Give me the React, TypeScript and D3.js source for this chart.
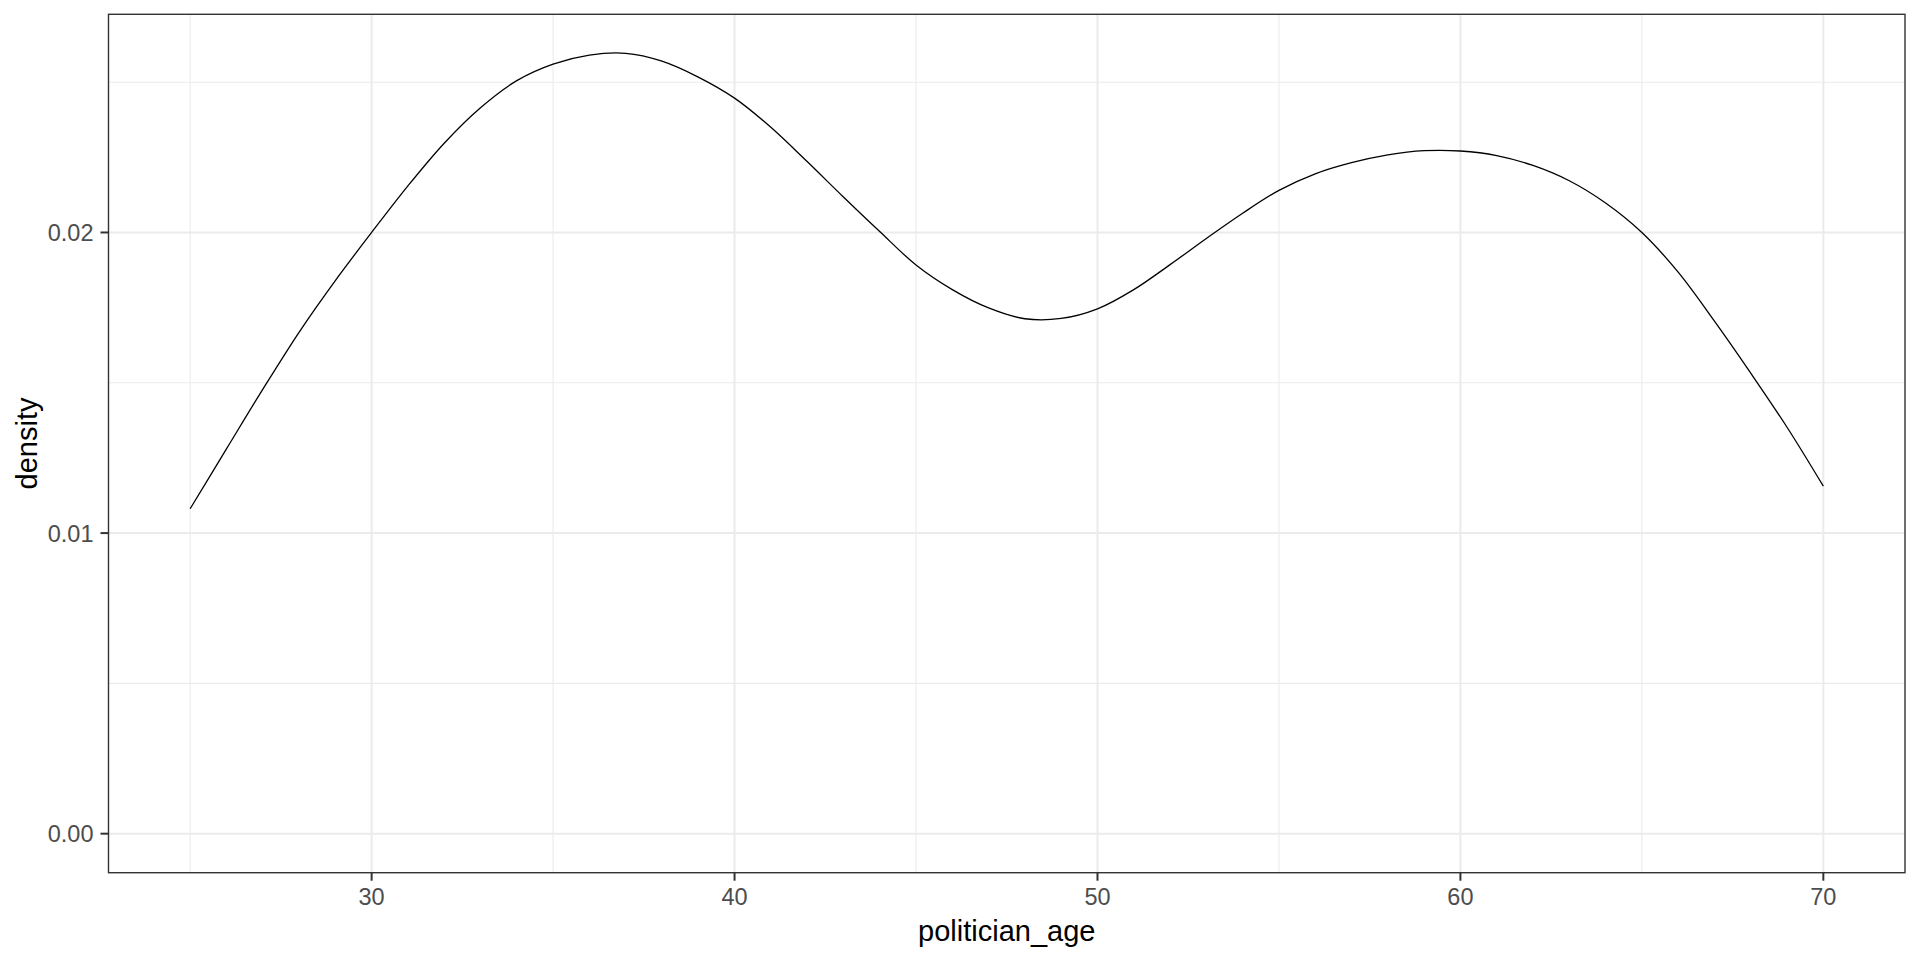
import React from "react";
import * as d3 from "d3";

const ages = [25,26,27,28,29,30,31,32,33,34,35,36,37,38,39,40,41,42,43,44,45,46,47,48,49,50,51,52,53,54,55,56,57,58,59,60,61,62,63,64,65,66,67,68,69,70];
const density = [0.01081,0.0128,0.01478,0.01668,0.01840,0.02,0.02155,0.02297,0.02415,0.02505,0.0256,0.0259,0.02596,0.0257,0.02517,0.02447,0.0235,0.02236,0.02118,0.02003,0.01892,0.0181,0.01749,0.01713,0.01714,0.01746,0.0181,0.01893,0.0198,0.02064,0.0214,0.02195,0.02232,0.02258,0.02272,0.02271,0.02256,0.02223,0.02172,0.02098,0.02,0.01868,0.01705,0.01532,0.01352,0.01156];

const xMajor = [30, 40, 50, 60, 70];
const xMinor = [25, 35, 45, 55, 65];
const yMajor = [0, 0.01, 0.02];
const yMinor = [0.005, 0.015, 0.025];
const yLabels = ["0.00", "0.01", "0.02"];
const xTitle = "politician_age";
const yTitle = "density";

export default function App() {
  const W = 1920, H = 960;
  const L = 108.5, R = 1905, T = 14.3, B = 872.7;
  const xMin = d3.min(ages)!, xMax = d3.max(ages)!;
  const xPad = (xMax - xMin) * 0.05;
  const yMaxV = d3.max(density)!;
  const x = d3.scaleLinear().domain([xMin - xPad, xMax + xPad]).range([L, R]);
  const y = d3.scaleLinear().domain([-0.05 * yMaxV, 1.05 * yMaxV]).range([B, T]);
  const pts = ages.map((a, i) => [a, density[i]] as [number, number]);
  const line = d3.line<[number, number]>().x(d => x(d[0])).y(d => y(d[1])).curve(d3.curveCatmullRom.alpha(0.5));
  const font = "'Liberation Sans', Arial, sans-serif";
  return (
    <svg width={W} height={H} style={{ position: "absolute", left: 0, top: 0, background: "#fff" }} fontFamily={font}>
      <rect x={0} y={0} width={W} height={H} fill="#fff" />
      {xMinor.map(v => <line key={"xm" + v} x1={x(v)} x2={x(v)} y1={T} y2={B} stroke="#EBEBEB" strokeWidth={1.1} />)}
      {yMinor.map(v => <line key={"ym" + v} x1={L} x2={R} y1={y(v)} y2={y(v)} stroke="#EBEBEB" strokeWidth={1.1} />)}
      {xMajor.map(v => <line key={"xM" + v} x1={x(v)} x2={x(v)} y1={T} y2={B} stroke="#EBEBEB" strokeWidth={2} />)}
      {yMajor.map(v => <line key={"yM" + v} x1={L} x2={R} y1={y(v)} y2={y(v)} stroke="#EBEBEB" strokeWidth={2} />)}
      <path d={line(pts) || ""} fill="none" stroke="#000" strokeWidth={1.3} />
      <rect x={L} y={T} width={R - L} height={B - T} fill="none" stroke="#333333" strokeWidth={1.4} />
      {yMajor.map((v, i) => (
        <g key={"yt" + v}>
          <line x1={L - 8} x2={L} y1={y(v)} y2={y(v)} stroke="#333333" strokeWidth={2} />
          <text x={L - 15} y={y(v)} dy="0.36em" textAnchor="end" fontSize={23.5} fill="#4D4D4D">{yLabels[i]}</text>
        </g>
      ))}
      {xMajor.map(v => (
        <g key={"xt" + v}>
          <line x1={x(v)} x2={x(v)} y1={B} y2={B + 8} stroke="#333333" strokeWidth={2} />
          <text x={x(v)} y={905} textAnchor="middle" fontSize={23.5} fill="#4D4D4D">{v}</text>
        </g>
      ))}
      <text x={(L + R) / 2} y={941} textAnchor="middle" fontSize={29} fill="#000">{xTitle}</text>
      <text transform={`translate(37,${(T + B) / 2}) rotate(-90)`} textAnchor="middle" fontSize={29} fill="#000">{yTitle}</text>
    </svg>
  );
}
